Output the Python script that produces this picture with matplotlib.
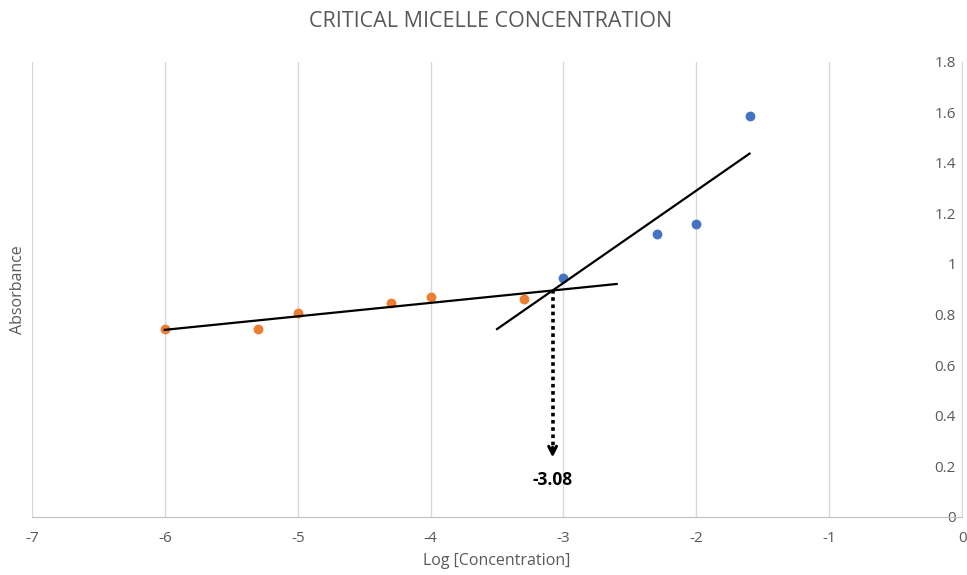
import matplotlib
matplotlib.use("Agg")
import matplotlib.pyplot as plt
import numpy as np
from matplotlib.ticker import FuncFormatter

plt.rcParams['font.family'] = ['Open Sans', 'DejaVu Sans']

# data
below_x = [-6, -5.3, -5, -4.3, -4, -3.3]
below_y = [0.744, 0.744, 0.806, 0.844, 0.871, 0.860]
above_x = [-3, -2.3, -2, -1.6]
above_y = [0.946, 1.117, 1.156, 1.585]

# trendlines as drawn (slope, intercept) and their x extents
below_fit = [0.0533, 1.0593]
below_span = [-6, -2.6]
above_fit = [0.365, 2.0200]
above_span = [-3.5, -1.6]

grey = '#595959'

fig = plt.figure(figsize=(9.67, 5.75), dpi=100)
ax = fig.add_axes([0.033, 0.101, 0.962, 0.792])

ax.set_xlim(-7, 0)
ax.set_ylim(0, 1.8)
ax.set_xticks(np.arange(-7, 1, 1))
ax.set_yticks(np.arange(0, 1.81, 0.2))
ax.yaxis.set_major_formatter(FuncFormatter(lambda v, p: '%g' % round(v, 1)))
ax.xaxis.set_major_formatter(FuncFormatter(lambda v, p: '%g' % v))

ax.grid(axis='x', color='#d9d9d9', linewidth=1)
ax.set_axisbelow(True)
for s in ['top', 'left']:
    ax.spines[s].set_visible(False)
ax.spines['bottom'].set_color('#bfbfbf')
ax.spines['right'].set_color('#d9d9d9')

ax.tick_params(axis='x', length=0, pad=10, colors=grey, labelsize=11)
ax.tick_params(axis='y', left=False, right=False, labelleft=False, labelright=True,
               pad=-8, colors=grey, labelsize=11)
for lab in ax.get_yticklabels():
    lab.set_horizontalalignment('right')

# points
ax.scatter(below_x, below_y, s=50, color='#ED7D31', zorder=3, linewidths=0)
ax.scatter(above_x, above_y, s=50, color='#4472C4', zorder=3, linewidths=0)

# trendlines
xb = np.array(below_span)
ax.plot(xb, below_fit[0] * xb + below_fit[1], color='black', lw=1.6, zorder=4)
xa = np.array(above_span)
ax.plot(xa, above_fit[0] * xa + above_fit[1], color='black', lw=1.6, zorder=4)

# intersection -> cmc
cmc_x = (below_fit[1] - above_fit[1]) / (above_fit[0] - below_fit[0])
cmc_y = below_fit[0] * cmc_x + below_fit[1]
ax.plot([cmc_x, cmc_x], [cmc_y, 0.26], color='black', lw=2.6, ls=(0, (1, 1)), zorder=4)
ax.annotate('', xy=(cmc_x, 0.235), xytext=(cmc_x, 0.275),
            arrowprops=dict(arrowstyle='->', color='black', lw=2.2,
                            mutation_scale=14, shrinkA=0, shrinkB=0))
ax.text(cmc_x, 0.145, '%.2f' % cmc_x, ha='center', va='center',
        fontsize=12.5, fontweight='bold', color='black')

fig.text(0.507, 0.962, 'CRITICAL MICELLE CONCENTRATION', ha='center', va='center',
         fontsize=15.5, color=grey)
ax.set_xlabel('Log [Concentration]', color=grey, fontsize=11.5, labelpad=5)
fig.text(0.019, 0.497, 'Absorbance', rotation=90, ha='center', va='center',
         fontsize=11.5, color=grey)

fig.savefig('out.png', dpi=100)
